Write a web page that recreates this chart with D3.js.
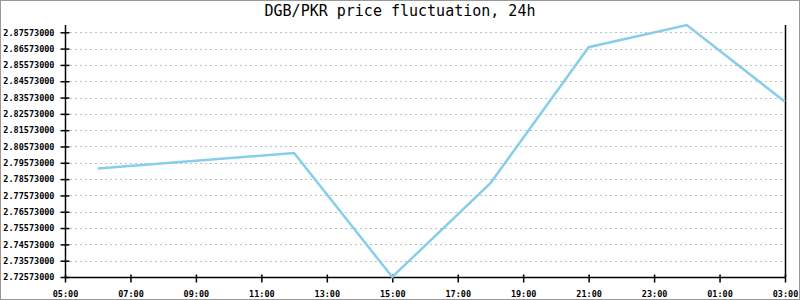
<!DOCTYPE html>
<html>
<head>
<meta charset="utf-8">
<script src="https://cdn.jsdelivr.net/npm/d3@7"></script>
<style>
  body { margin: 0; background: #fff; }
  text { font-family: "DejaVu Sans Mono", "Liberation Mono", monospace; }
</style>
</head>
<body>
<div id="chart"></div>
<script>
// data
const times = ['06:00', '12:00', '15:00', '18:00', '21:00', '00:00', '03:00']
const prices = [2.7923, 2.8017, 2.72573, 2.7833, 2.8666, 2.8802, 2.8331]
const xTickLabels = ['05:00', '07:00', '09:00', '11:00', '13:00', '15:00', '17:00', '19:00', '21:00', '23:00', '01:00', '03:00']
const title = 'DGB/PKR price fluctuation, 24h'

const width = 800
const height = 300
const margin = {left: 65, top: 25, right: 15, bottom: 23}

// turn "HH:MM" into dates, rolling over midnight
const parse = d3.timeParse('%H:%M')
function toDates (labels) {
  let day = 0
  let prev = -1
  return labels.map(s => {
    const t = parse(s)
    if (t.getHours() < prev) day++
    prev = t.getHours()
    return d3.timeDay.offset(t, day)
  })
}
const xTicks = toDates(xTickLabels)
const xDates = toDates(['05:00'].concat(times)).slice(1)
const data = xDates.map((d, i) => ({date: d, value: prices[i]}))

const x = d3.scaleTime()
  .domain([xTicks[0], xTicks[xTicks.length - 1]])
  .range([margin.left, width - margin.right])

const yMin = d3.min(prices)
const yMax = d3.max(prices)
const y = d3.scaleLinear()
  .domain([yMin, yMax])
  .range([height - margin.bottom, margin.top])
const yTicks = d3.range(0, 16).map(i => yMin + i * 0.01).filter(v => v <= yMax + 1e-9)

const svg = d3.select('#chart')
  .append('svg')
  .attr('width', width)
  .attr('height', height)

// frame
svg.append('rect')
  .attr('x', 0.5).attr('y', 0.5)
  .attr('width', width - 1).attr('height', height - 1)
  .attr('fill', '#fff')
  .attr('stroke', '#999')

// grid
svg.append('g')
  .selectAll('line')
  .data(yTicks)
  .enter()
  .append('line')
  .attr('x1', margin.left)
  .attr('x2', width - margin.right)
  .attr('y1', d => Math.round(y(d)) + 0.5)
  .attr('y2', d => Math.round(y(d)) + 0.5)
  .attr('stroke', '#c0c0c0')
  .attr('stroke-dasharray', '2,3')

// y axis
const yAxis = svg.append('g')
  .attr('transform', `translate(${margin.left + 0.5},0)`)
  .call(d3.axisLeft(y).tickValues(yTicks).tickFormat(d => d.toFixed(8)).tickSize(5).tickPadding(6))
yAxis.selectAll('.tick line').attr('x2', -5).attr('x1', 4).attr('stroke-width', 1.5)
yAxis.select('.domain').attr('d', `M0,${margin.top}V${height - margin.bottom}`).attr('stroke-width', 1.5)

// right edge line
svg.append('line')
  .attr('x1', width - margin.right + 0.5).attr('x2', width - margin.right + 0.5)
  .attr('y1', margin.top).attr('y2', height - margin.bottom)
  .attr('stroke', '#000').attr('stroke-width', 1.5)

// x axis
const xAxis = svg.append('g')
  .attr('transform', `translate(0,${height - margin.bottom + 0.5})`)
  .call(d3.axisBottom(x).tickValues(xTicks).tickFormat(d3.timeFormat('%H:%M')).tickSize(5).tickPadding(8))
xAxis.selectAll('.tick line').attr('y1', -3).attr('y2', 5).attr('stroke-width', 1.5)
xAxis.select('.domain').attr('d', `M${margin.left},0H${width - margin.right}`).attr('stroke-width', 1.5)

svg.selectAll('.tick text')
  .attr('font-size', 8.5)
  .attr('font-weight', 'bold')
  .attr('font-family', '"DejaVu Sans Mono", monospace')
  .attr('fill', '#000')

// price line
svg.append('path')
  .datum(data)
  .attr('fill', 'none')
  .attr('stroke', '#87ceeb')
  .attr('stroke-width', 2.5)
  .attr('d', d3.line().x(d => x(d.date)).y(d => y(d.value)))

// title
svg.append('text')
  .attr('x', width / 2)
  .attr('y', 16)
  .attr('text-anchor', 'middle')
  .attr('font-size', 15)
  .attr('fill', '#000')
  .text(title)
</script>
</body>
</html>
